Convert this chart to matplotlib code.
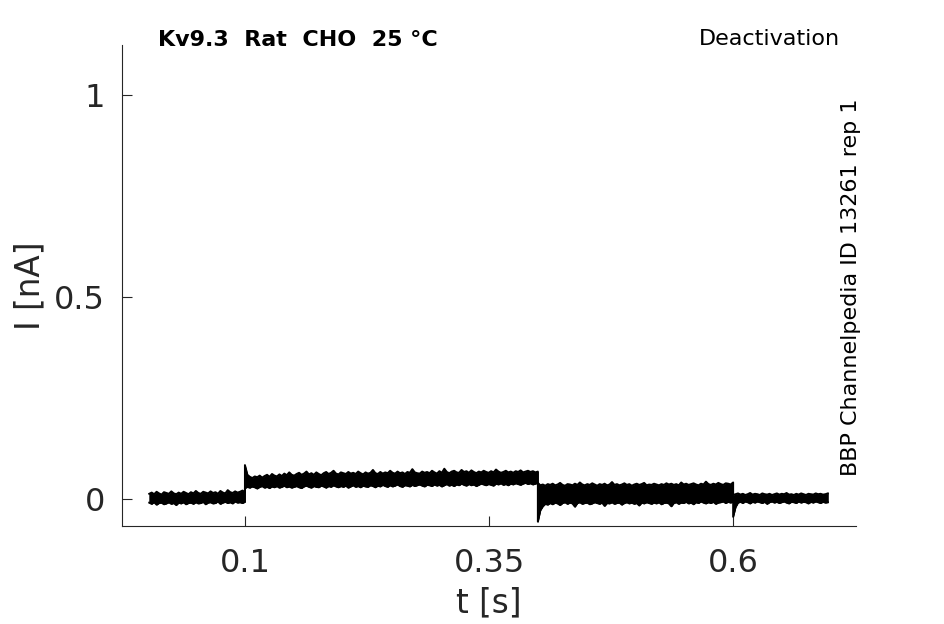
import numpy as np
import matplotlib
matplotlib.use("Agg")
import matplotlib.pyplot as plt

# segment boundaries [s]
seg_bounds = [0.002, 0.1, 0.4, 0.6, 0.697]

# upper / lower envelope of the overlaid sweeps, in pA, per segment
up_a = [13,16,12,18,14,11,17,15,13,19,14,12,16,13,18,15,12,17,14,20,15,13,18,16,14,19,15,17,13,20,16,14,22,17,15,19,16,18,21,17]
lo_a = [-9,-12,-8,-14,-10,-9,-13,-11,-8,-12,-10,-15,-9,-11,-8,-13,-10,-9,-12,-8,-11,-10,-7,-13,-9,-8,-11,-10,-6,-12,-9,-7,-10,-8,-11,-6,-9,-8,-10,-7]

up_b = [84,60,55,52,56,54,58,53,57,60,55,62,58,56,61,57,63,59,66,60,58,62,65,60,63,68,61,64,60,66,62,59,64,67,62,65,70,63,61,66,64,62,67,63,65,62,68,64,61,66,63,65,72,64,62,67,63,66,64,70,65,63,68,64,66,62,67,65,74,66,64,63,68,65,67,64,70,66,63,69,65,75,67,64,68,70,66,65,72,67,69,65,71,67,64,68,66,70,67,65,69,66,73,68,65,67,70,66,68,65,69,67,71,66,68,70,67,69,66,68]
lo_b = [27,30,28,31,29,26,30,32,28,30,27,31,29,32,28,30,33,29,31,28,30,32,29,27,31,33,30,28,32,30,29,33,31,28,32,30,34,31,29,32,30,33,28,31,34,30,32,29,33,31,30,34,32,29,33,31,35,32,30,34,31,33,36,32,30,34,33,31,35,32,34,36,33,31,35,34,32,36,33,35,31,34,37,33,35,32,36,34,38,35,33,37,34,36,32,35,38,36,34,37,35,33,38,36,39,35,37,34,38,36,39,37,35,38,40,37,39,36,38,40]

up_c = [40,34,36,33,37,35,38,34,36,40,35,33,37,36,34,38,35,41,36,34,37,35,39,36,33,37,35,38,34,36,42,35,37,34,36,39,35,37,33,36,38,35,37,40,34,36,35,38,36,34,37,35,39,36,38,35,37,34,41,36,38,35,37,39,36,34,38,36,43,37,35,38,36,40,37,35,39,38,36,41]
lo_c = [-56,-28,-18,-12,-14,-10,-13,-9,-11,-15,-10,-8,-12,-9,-11,-19,-10,-8,-12,-10,-9,-13,-11,-8,-10,-12,-9,-17,-10,-11,-8,-12,-10,-9,-14,-10,-8,-11,-9,-12,-10,-16,-9,-11,-8,-10,-12,-9,-11,-8,-13,-10,-9,-11,-18,-10,-8,-12,-9,-10,-7,-11,-9,-13,-8,-10,-6,-9,-11,-8,-10,-7,-12,-9,-8,-6,-10,-7,-9,-6]

up_d = [10,12,14,11,13,10,12,15,11,13,12,10,14,12,11,13,10,12,14,11,13,12,15,11,12,10,13,11,14,12,10,13,12,11,14,12,13,11,12,14]
lo_d = [-44,-20,-9,-7,-10,-6,-8,-11,-7,-9,-6,-8,-10,-7,-12,-8,-6,-9,-7,-10,-8,-6,-9,-11,-7,-8,-10,-6,-9,-7,-8,-11,-7,-9,-6,-8,-10,-7,-9,-8]

upper_segments = [up_a, up_b, up_c, up_d]
lower_segments = [lo_a, lo_b, lo_c, lo_d]

x_ticks = [0.1, 0.35, 0.6]
x_ticklabels = ["0.1", "0.35", "0.6"]
y_ticks = [0, 0.5, 1]
y_ticklabels = ["0", "0.5", "1"]

title_left = "Kv9.3  Rat  CHO  25 °C"
title_right = "Deactivation"
side_text = "BBP Channelpedia ID 13261 rep 1"


def build(segments):
    ts, vs = [], []
    for i, vals in enumerate(segments):
        ts.append(np.linspace(seg_bounds[i], seg_bounds[i + 1], len(vals)))
        vs.append(np.array(vals, dtype=float) / 1000.0)
    return np.concatenate(ts), np.concatenate(vs)


t_up, v_up = build(upper_segments)
t_lo, v_lo = build(lower_segments)

fig = plt.figure(figsize=(9.45, 6.24), dpi=100)
ax = fig.add_axes([0.129, 0.157, 0.777, 0.771])

ax.fill_between(t_up, v_lo, v_up, color="black", lw=0.5, edgecolor="black")
ax.plot(t_up, v_up, color="black", lw=1.4)
ax.plot(t_lo, v_lo, color="black", lw=1.4)

ax.set_xlim(-0.026, 0.726)
ax.set_ylim(-0.0668, 1.1238)
ax.set_xticks(x_ticks)
ax.set_xticklabels(x_ticklabels)
ax.set_yticks(y_ticks)
ax.set_yticklabels(y_ticklabels)
tc = "#262626"
ax.tick_params(axis="x", direction="in", length=7, width=0.8, pad=16,
               labelsize=23, labelcolor=tc, color=tc)
ax.tick_params(axis="y", direction="in", length=7, width=0.8, pad=12,
               labelsize=23, labelcolor=tc, color=tc)
for s in ["top", "right"]:
    ax.spines[s].set_visible(False)
for s in ["left", "bottom"]:
    ax.spines[s].set_linewidth(0.8)
    ax.spines[s].set_color(tc)

ax.set_xlabel("t [s]", fontsize=23.5, color=tc, labelpad=5)
ax.set_ylabel("I [nA]", fontsize=23.5, color=tc, labelpad=6)

fig.text(158 / 945, 1 - 40 / 624, title_left, fontsize=16, fontweight="bold",
         ha="left", va="center", color="black")
fig.text(840 / 945, 1 - 39 / 624, title_right, fontsize=16,
         ha="right", va="center", color="black")
fig.text(851 / 945, 1 - 287 / 624, side_text, fontsize=16, rotation=90,
         ha="center", va="center", color="black")

fig.savefig("out.png", dpi=100)
